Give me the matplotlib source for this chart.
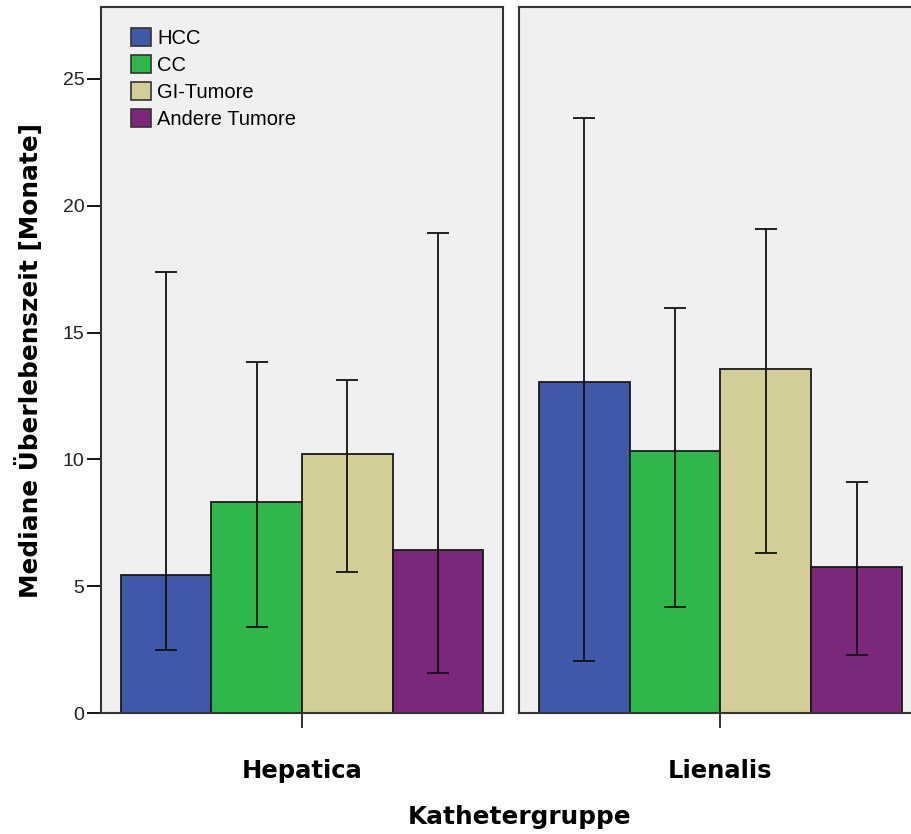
import matplotlib.pyplot as plt
from matplotlib.patches import Patch

groups = ['Hepatica', 'Lienalis']
tumors = ['HCC', 'CC', 'GI-Tumore', 'Andere Tumore']
colors = ['#3f58a9', '#2eb84b', '#d3ce98', '#7c287a']

# median survival and CI per group (order as tumors)
medians = {
    'Hepatica': [5.45, 8.32, 10.22, 6.43],
    'Lienalis': [13.05, 10.35, 13.55, 5.77],
}
lower = {
    'Hepatica': [2.48, 3.4, 5.57, 1.58],
    'Lienalis': [2.05, 4.17, 6.3, 2.3],
}
upper = {
    'Hepatica': [17.4, 13.85, 13.13, 18.92],
    'Lienalis': [23.45, 15.97, 19.1, 9.12],
}

W, H = 912, 834
fig = plt.figure(figsize=(W / 100, H / 100), dpi=100)

top_px, bot_px = 7, 713
ymax = (bot_px - top_px) / ((713 - 79) / 25)
panels = [(101, 402), (519, 403)]

positions = [-1.5, -0.5, 0.5, 1.5]
for i, (g, (x0, w)) in enumerate(zip(groups, panels)):
    ax = fig.add_axes([x0 / W, (H - bot_px) / H, w / W, (bot_px - top_px) / H])
    ax.set_facecolor('#f0f0f0')
    med = medians[g]
    lo = [m - l for m, l in zip(med, lower[g])]
    hi = [u - m for m, u in zip(med, upper[g])]
    ax.bar(positions, med, width=1.0, color=colors, edgecolor='#1a1a1a', linewidth=1.3, zorder=2)
    ax.errorbar(positions, med, yerr=[lo, hi], fmt='none', ecolor='#111111',
                elinewidth=1.3, capsize=8, capthick=1.3, zorder=3)
    ax.set_xlim(-2.22, 2.22)
    ax.set_ylim(0, ymax)
    ax.set_xticks([0])
    ax.set_xticklabels([g], fontsize=17.5, fontweight='bold', family='DejaVu Sans')
    ax.tick_params(axis='x', length=10.8, width=1.3, pad=22, color='#222222')
    for s in ax.spines.values():
        s.set_color('#333333')
        s.set_linewidth(1.5)
    if i == 0:
        ax.set_yticks([0, 5, 10, 15, 20, 25])
        ax.tick_params(axis='y', length=10, width=1.3, labelsize=14, pad=2)
        for lab in ax.get_yticklabels():
            lab.set_family('Liberation Sans')
            lab.set_color('#222222')
        ax.set_ylabel('Mediane Überlebenszeit [Monate]', fontsize=17.8, fontweight='bold', labelpad=14)
        handles = [Patch(facecolor=c, edgecolor='#333333', linewidth=1.2) for c in colors]
        ax.legend(handles, tumors, loc='upper left', frameon=False,
                  prop={'family': 'Liberation Sans', 'size': 14.5},
                  handlelength=1.0, handleheight=1.0, handletextpad=0.3,
                  labelspacing=0.35, bbox_to_anchor=(0.04, 0.99), borderaxespad=0.3)
    else:
        ax.set_yticks([])

fig.text(520 / W, 1 - 817 / H, 'Kathetergruppe', ha='center', va='center',
         fontsize=17.8, fontweight='bold')

fig.savefig('out.png', dpi=100)
